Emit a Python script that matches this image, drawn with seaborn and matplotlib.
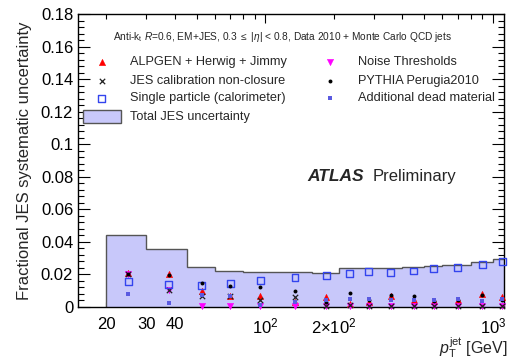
import numpy as np
import pandas as pd
import matplotlib
matplotlib.use("Agg")
import matplotlib.pyplot as plt
from matplotlib.patches import Rectangle
from matplotlib.ticker import FixedLocator, FixedFormatter, MultipleLocator
import seaborn as sns

# pT bin edges and centres [GeV]
bin_edges = [20, 30, 45, 60, 80, 110, 160, 210, 260, 310, 400, 500, 600, 800, 1000, 1200]
pt_centres = [25, 37.5, 52.5, 70, 95, 135, 185, 235, 285, 355, 450, 550, 700, 900, 1100]

# total JES uncertainty per bin
total_jes = [0.0444, 0.0356, 0.0246, 0.0224, 0.0218, 0.0214, 0.0211, 0.0240,
             0.0240, 0.0242, 0.0245, 0.0252, 0.0257, 0.0277, 0.0293]

# individual uncertainty components
alpgen = [0.0207, 0.0200, 0.0097, 0.0066, 0.0066, 0.0031, 0.0062, 0.0020,
          0.0030, 0.0068, 0.0040, 0.0035, 0.0040, 0.0078, 0.0060]
closure = [0.0200, 0.0103, 0.0070, 0.0066, 0.0045, 0.0062, 0.0008, 0.0010,
           0.0008, 0.0005, 0.0005, 0.0005, 0.0005, 0.0005, 0.0005]
single_particle = [0.0154, 0.0140, 0.0130, 0.0143, 0.0160, 0.0180, 0.0191, 0.0205,
                   0.0216, 0.0210, 0.0221, 0.0238, 0.0242, 0.0260, 0.0277]
noise = [0.0205, 0.0103, 0.0008, 0.0008, 0.0004, 0.0004, 0.0004, 0.0004,
         0.0004, 0.0004, 0.0004, 0.0004, 0.0004, 0.0004, 0.0004]
pythia = [0.0205, 0.0197, 0.0150, 0.0130, 0.0121, 0.0097, 0.0030, 0.0088,
          0.0040, 0.0076, 0.0068, 0.0035, 0.0040, 0.0072, 0.0040]
dead_material = [0.0082, 0.0027, 0.0076, 0.0066, 0.0014, 0.0031, 0.0041, 0.0051,
                 0.0051, 0.0040, 0.0040, 0.0040, 0.0050, 0.0035, 0.0050]

x_tick_values = [20, 30, 40, 200]
x_tick_labels = ["20", "30", "40", r"2$\times$10$^{2}$"]

sns.set_theme(style="ticks")
plt.rcParams["font.family"] = ["Liberation Sans", "DejaVu Sans"]
plt.rcParams["mathtext.fontset"] = "custom"
plt.rcParams["mathtext.rm"] = "Liberation Sans"
plt.rcParams["mathtext.it"] = "Liberation Sans:italic"
plt.rcParams["mathtext.bf"] = "Liberation Sans:bold"

fig = plt.figure(figsize=(5.12, 3.6), dpi=100)
ax = fig.add_axes([78 / 512, 53 / 360, 426 / 512, 293 / 360])

fill_col = "#c8c8fa"
ax.stairs(total_jes, bin_edges, fill=True, color=fill_col, zorder=1)
ax.stairs(total_jes, bin_edges, fill=False, color="#555555", linewidth=1.0, zorder=2)

df = pd.DataFrame({
    "pt": pt_centres,
    "alpgen": alpgen,
    "closure": closure,
    "single": single_particle,
    "noise": noise,
    "pythia": pythia,
    "dead": dead_material,
})

styles = {
    "alpgen": dict(marker="^", s=20, color="#ff0000", edgecolor="#ff0000", linewidth=0.4),
    "noise": dict(marker="v", s=20, color="#ff00ff", edgecolor="#ff00ff", linewidth=0.4),
    "closure": dict(marker="x", s=15, color="#222222", linewidth=0.9),
    "single": dict(marker="s", s=25, facecolor="none", edgecolor="#3344ee", linewidth=1.0),
    "pythia": dict(marker="o", s=8, color="black", edgecolor="black", linewidth=0),
    "dead": dict(marker="s", s=12, color="#5a5ae0", edgecolor="#5a5ae0", linewidth=0),
}
for i, key in enumerate(["alpgen", "noise", "closure", "single", "pythia", "dead"]):
    sns.scatterplot(data=df, x="pt", y=key, ax=ax, zorder=3 + i, clip_on=False, **styles[key])

ax.set_xscale("log")
ax.set_xlim(15, 1120)
ax.set_ylim(0, 0.18)
ax.set_xlabel("")
ax.set_ylabel("Fractional JES systematic uncertainty", fontsize=12, labelpad=6)

# y axis ticks
ax.yaxis.set_major_locator(FixedLocator([0, 0.02, 0.04, 0.06, 0.08, 0.1, 0.12, 0.14, 0.16, 0.18]))
ax.yaxis.set_major_formatter(FixedFormatter(["0", "0.02", "0.04", "0.06", "0.08", "0.1",
                                             "0.12", "0.14", "0.16", "0.18"]))
ax.yaxis.set_minor_locator(MultipleLocator(0.004))

# x axis ticks
ax.xaxis.set_major_locator(FixedLocator([100, 1000]))
ax.xaxis.set_major_formatter(FixedFormatter([r"10$^{2}$", r"10$^{3}$"]))
minor_x = [20, 30, 40, 50, 60, 70, 80, 90, 200, 300, 400, 500, 600, 700, 800, 900]
ax.xaxis.set_minor_locator(FixedLocator(minor_x))
minor_labels = [x_tick_labels[x_tick_values.index(v)] if v in x_tick_values else "" for v in minor_x]
ax.xaxis.set_minor_formatter(FixedFormatter(minor_labels))

ax.tick_params(axis="both", which="both", direction="in", top=True, right=True,
               labelsize=12, colors="black", width=0.8)
ax.tick_params(axis="y", which="major", length=8.5)
ax.tick_params(axis="y", which="minor", length=4.5)
ax.tick_params(axis="x", which="major", length=6.5, pad=7)
ax.tick_params(axis="x", which="minor", length=3.5, pad=7)
for sp in ax.spines.values():
    sp.set_color("black")
    sp.set_linewidth(1.0)

# x axis title
fig.text(508 / 512, 1 - 348 / 360, r"$p_{\rm T}^{\rm jet}$ [GeV]", ha="right", va="center", fontsize=11.5)

# header line
ax.text(0.083, 0.922,
        r"Anti-k$_{\rm t}$ $R$=0.6, EM+JES, 0.3 $\leq$ |$\eta$| < 0.8, Data 2010 + Monte Carlo QCD jets",
        transform=ax.transAxes, fontsize=7.3, va="center", ha="left")

# legend
leg_fs = 9.2
rows = [0.836, 0.773, 0.713, 0.649]
left_items = [("alpgen", "ALPGEN + Herwig + Jimmy"),
              ("closure", "JES calibration non-closure"),
              ("single", "Single particle (calorimeter)")]
right_items = [("noise", "Noise Thresholds"),
               ("pythia", "PYTHIA Perugia2010"),
               ("dead", "Additional dead material")]
for (key, label), yy in zip(left_items, rows):
    ax.scatter([0.056], [yy], transform=ax.transAxes, clip_on=False, zorder=10, **styles[key])
    ax.text(0.122, yy, label, transform=ax.transAxes, fontsize=leg_fs, va="center")
for (key, label), yy in zip(right_items, rows):
    ax.scatter([0.592], [yy], transform=ax.transAxes, clip_on=False, zorder=10, **styles[key])
    ax.text(0.657, yy, label, transform=ax.transAxes, fontsize=leg_fs, va="center")
ax.add_patch(Rectangle((0.0125, 0.627), 0.0884, 0.045, transform=ax.transAxes,
                       facecolor=fill_col, edgecolor="#555555", linewidth=1.0, zorder=10))
ax.text(0.122, rows[3], "Total JES uncertainty", transform=ax.transAxes, fontsize=leg_fs, va="center")

# experiment label
ax.text(0.5376, 0.4437, "ATLAS", transform=ax.transAxes, fontsize=12.5,
        fontweight="bold", fontstyle="italic", va="center", ha="left")
ax.text(0.691, 0.4437, "Preliminary", transform=ax.transAxes, fontsize=12,
        va="center", ha="left")

fig.savefig("out.png", dpi=100)
